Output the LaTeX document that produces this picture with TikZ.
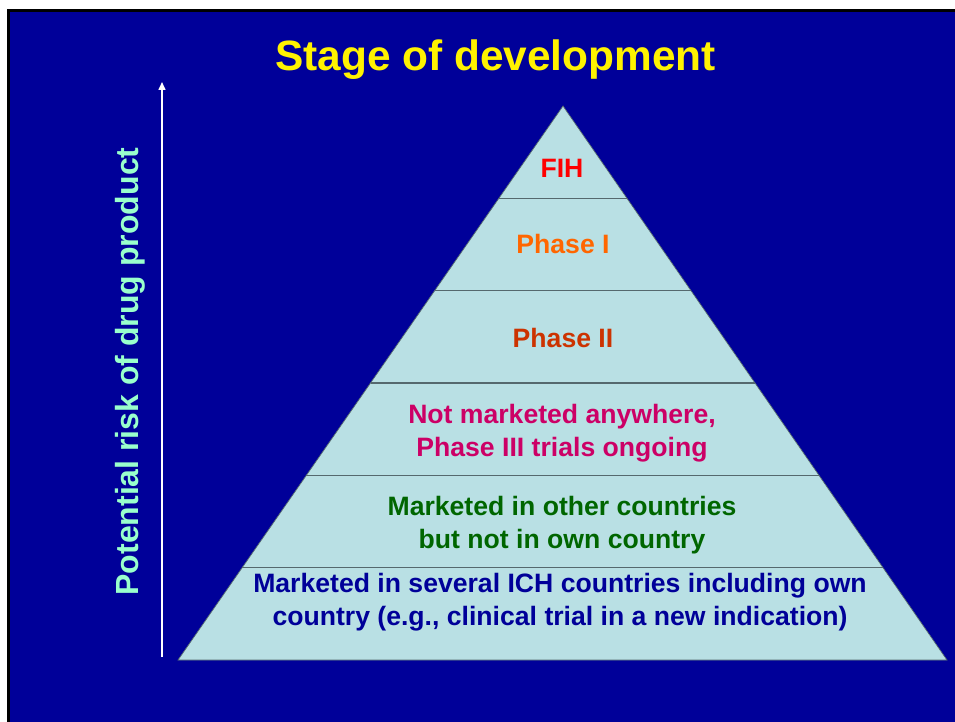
\documentclass[tikz,border=0pt]{standalone}
\usepackage{fontspec}
\setmainfont{Liberation Sans}
\usetikzlibrary{calc,arrows.meta}
\definecolor{slideblue}{RGB}{0,0,153}
\definecolor{pyrfill}{RGB}{185,224,228}
\definecolor{pyrline}{RGB}{85,105,110}
\definecolor{fihred}{RGB}{255,0,0}
\definecolor{phaseorange}{RGB}{255,102,0}
\definecolor{phasebrown}{RGB}{204,51,0}
\definecolor{notmktpink}{RGB}{204,0,102}
\definecolor{mktgreen}{RGB}{0,102,0}
\definecolor{mktnavy}{RGB}{0,0,153}
\definecolor{risktext}{RGB}{153,255,204}
\tikzset{band/.style={font=\bfseries\fontsize{26.6}{33}\selectfont, align=center, inner sep=0pt}}
\begin{document}
\begin{tikzpicture}[x=1pt,y=-1pt]
	\useasboundingbox (0,0) rectangle (955,722);
	\fill[black] (7,9) rectangle (955,722);
	\fill[slideblue] (10,12) rectangle (955,722);
	\node[anchor=base, text=yellow, font=\bfseries\fontsize{42.4}{50}\selectfont] (title) at (495.5,71) {Stage of development};
	% pyramid
	\coordinate (apex) at (563,106);
	\coordinate (baseleft) at (178,660);
	\coordinate (baseright) at (947,660);
	\filldraw[fill=pyrfill, draw=pyrline, line width=0.7pt] (apex) -- (baseleft) -- (baseright) -- cycle;
	\foreach \i in {1,...,5}
		\draw[pyrline, line width=1.2pt] ($(apex)!\i/6!(baseleft)$) -- ($(apex)!\i/6!(baseright)$);
	\node[band, text=fihred] (fih) at (562,168) {FIH};
	\node[band, text=phaseorange] (phaseone) at (563,244) {Phase I};
	\node[band, text=phasebrown] (phasetwo) at (563,337.5) {Phase II};
	\node[band, text=notmktpink] (notmarketed) at (562,433) {Not marketed anywhere,\\Phase III trials ongoing};
	\node[band, text=mktgreen] (marketedother) at (562,525.5) {Marketed in other countries\\but not in own country};
	\node[band, text=mktnavy] (marketedseveral) at (560,602.5) {Marketed in several ICH countries including own\\country (e.g., clinical trial in a new indication)};
	% risk axis
	\coordinate (axisfoot) at (162,657);
	\coordinate (axistop) at (162,82);
	\draw[white, line width=1.5pt, -{Triangle[width=7pt,length=8pt]}] (axisfoot) -- (axistop);
	\node[rotate=90, anchor=base, text=risktext, font=\bfseries\fontsize{32}{38}\selectfont] (risklabel) at (138,371.5) {Potential risk of drug product};
\end{tikzpicture}
\end{document}
